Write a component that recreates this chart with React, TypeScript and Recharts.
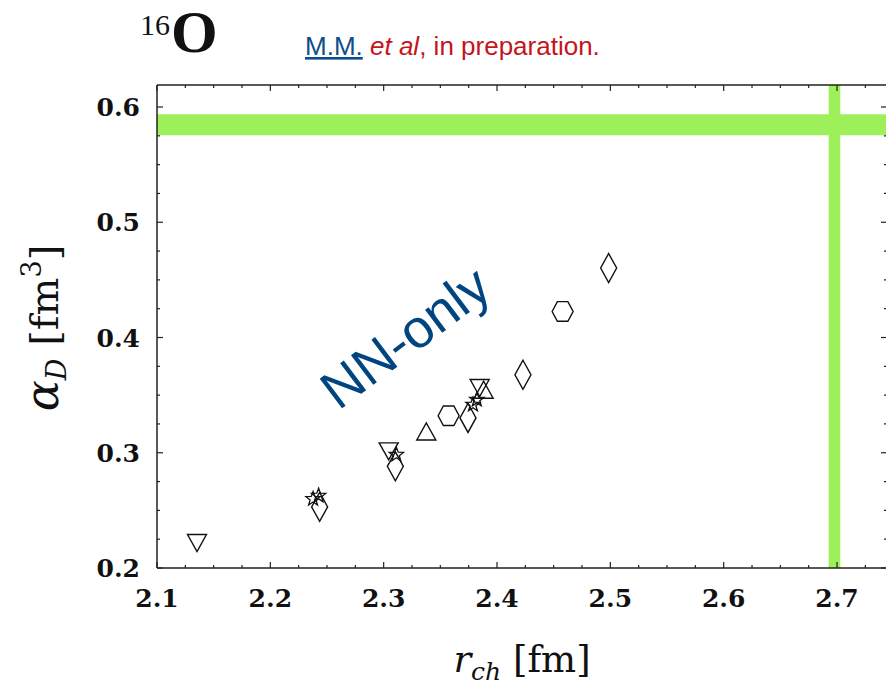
import React from 'react';
import { ScatterChart, Scatter, XAxis, YAxis, ReferenceArea, ReferenceDot } from 'recharts';

// r_ch [fm] vs alpha_D [fm^3]
const downTriangles = [
  { r: 2.1353, a: 0.2217 },
  { r: 2.3044, a: 0.3012 },
  { r: 2.3847, a: 0.3562 },
];
const upTriangles = [
  { r: 2.3376, a: 0.3185 },
  { r: 2.3882, a: 0.3547 },
];
const stars = [
  { r: 2.2377, a: 0.2599 },
  { r: 2.2426, a: 0.2627 },
  { r: 2.3112, a: 0.2983 },
  { r: 2.3788, a: 0.3417 },
  { r: 2.3822, a: 0.346 },
];
const diamonds = [
  { r: 2.2435, a: 0.253 },
  { r: 2.3103, a: 0.2882 },
  { r: 2.3744, a: 0.3302 },
  { r: 2.4229, a: 0.3677 },
  { r: 2.4985, a: 0.4603 },
];
const hexagons = [
  { r: 2.3573, a: 0.3321 },
  { r: 2.4579, a: 0.4226 },
];

// experimental bands
const expAlpha = [0.5755, 0.5938];
const expRadius = [2.6926, 2.7029];

const xTicks = [2.1, 2.125, 2.15, 2.175, 2.2, 2.225, 2.25, 2.275, 2.3, 2.325, 2.35, 2.375, 2.4, 2.425, 2.45, 2.475, 2.5, 2.525, 2.55, 2.575, 2.6, 2.625, 2.65, 2.675, 2.7, 2.725];
const yTicks = [0.2, 0.225, 0.25, 0.275, 0.3, 0.325, 0.35, 0.375, 0.4, 0.425, 0.45, 0.475, 0.5, 0.525, 0.55, 0.575, 0.6];

const ink = '#111';
const axisColor = '#222';
const green = '#9ef05a';
const serif = '"DejaVu Serif", serif';
const sw = 1.4;

const isMajor = (v: number) => Math.abs(v * 10 - Math.round(v * 10)) < 1e-6;

const BottomTick = (props: any) => {
  const { x, y, payload } = props;
  const major = isMajor(payload.value);
  return (
    <g>
      <line x1={x} x2={x} y1={y} y2={y - (major ? 6 : 3)} stroke={axisColor} strokeWidth={1.2} />
      {major && (
        <text x={x} y={y + 39} textAnchor="middle" fontFamily={serif} fontWeight="bold" fontSize={25} fill={ink}>
          {payload.value.toFixed(1)}
        </text>
      )}
    </g>
  );
};

const TopTick = (props: any) => {
  const { x, y, payload } = props;
  const major = isMajor(payload.value);
  return <line x1={x} x2={x} y1={y} y2={y + (major ? 6 : 3)} stroke={axisColor} strokeWidth={1.2} />;
};

const LeftTick = (props: any) => {
  const { x, y, payload } = props;
  const major = isMajor(payload.value);
  return (
    <g>
      <line x1={x} x2={x + (major ? 6 : 3)} y1={y} y2={y} stroke={axisColor} strokeWidth={1.2} />
      {major && (
        <text x={x - 17} y={y + 9} textAnchor="end" fontFamily={serif} fontWeight="bold" fontSize={25} fill={ink}>
          {payload.value.toFixed(1)}
        </text>
      )}
    </g>
  );
};

const RightTick = (props: any) => {
  const { x, y, payload } = props;
  const major = isMajor(payload.value);
  return <line x1={x} x2={x - (major ? 6 : 3)} y1={y} y2={y} stroke={axisColor} strokeWidth={1.2} />;
};

const XLabel = () => (
  <text x={522} y={672} textAnchor="middle" fontFamily={serif} fontSize={37} fill={ink}>
    <tspan fontStyle="italic">r</tspan>
    <tspan fontStyle="italic" fontSize={25} dy={8}>ch</tspan>
    <tspan dy={-8}> [fm]</tspan>
  </text>
);

const YLabel = () => (
  <text transform="rotate(-90)" x={-328} y={58} textAnchor="middle" fontFamily={serif} fontSize={40} fill={ink}>
    <tspan fontStyle="italic" fontSize={46}>α</tspan>
    <tspan fontStyle="italic" fontSize={27} dy={8}>D</tspan>
    <tspan dy={-8}> [fm</tspan>
    <tspan fontSize={27} dy={-17}>3</tspan>
    <tspan dy={17}>]</tspan>
  </text>
);

const Header = () => (
  <g>
    <text x={140} y={35} fontFamily='"Liberation Serif", serif' fontSize={30} fill={ink}>16</text>
    <text x={171} y={52} fontFamily='"Liberation Serif", serif' fontWeight="bold" fontSize={60} fill={ink}>O</text>
    <text x={305} y={55} fontFamily='"Liberation Sans", Arial, sans-serif' fontSize={26} fill="#c4141d">
      <tspan fill="#0d4d8b" style={{ textDecoration: 'underline' }}>M.M.</tspan>
      <tspan> </tspan>
      <tspan fontStyle="italic">et al</tspan>
      <tspan>, in preparation.</tspan>
    </text>
  </g>
);

const NNLabel = (p: any) => (
  <text
    x={p.cx}
    y={p.cy}
    transform={`rotate(-37 ${p.cx} ${p.cy})`}
    textAnchor="middle"
    dominantBaseline="central"
    fontFamily='"Liberation Sans", Arial, sans-serif'
    fontSize={54}
    fill="#00457f"
  >
    NN-only
  </text>
);

const DownTriangle = ({ cx, cy }: any) => (
  <path d={`M${cx - 9.5} ${cy - 8.5}H${cx + 9.5}L${cx} ${cy + 8.5}Z`} fill="none" stroke={ink} strokeWidth={sw} />
);
const UpTriangle = ({ cx, cy }: any) => (
  <path d={`M${cx - 9.5} ${cy + 8.5}H${cx + 9.5}L${cx} ${cy - 8.5}Z`} fill="none" stroke={ink} strokeWidth={sw} />
);
const Diamond = ({ cx, cy }: any) => (
  <path d={`M${cx} ${cy - 14.5}L${cx + 8} ${cy}L${cx} ${cy + 14.5}L${cx - 8} ${cy}Z`} fill="none" stroke={ink} strokeWidth={sw} />
);
const Hexagon = ({ cx, cy }: any) => (
  <path
    d={`M${cx - 10.5} ${cy}L${cx - 5.25} ${cy - 9.8}H${cx + 5.25}L${cx + 10.5} ${cy}L${cx + 5.25} ${cy + 9.8}H${cx - 5.25}Z`}
    fill="none"
    stroke={ink}
    strokeWidth={sw}
  />
);
const Star = ({ cx, cy }: any) => {
  const pts: string[] = [];
  for (let i = 0; i < 10; i++) {
    const rad = i % 2 === 0 ? 7.5 : 3.1;
    const ang = -Math.PI / 2 + (i * Math.PI) / 5;
    pts.push(`${cx + rad * Math.cos(ang)},${cy + rad * Math.sin(ang)}`);
  }
  return <polygon points={pts.join(' ')} fill="none" stroke={ink} strokeWidth={1.3} />;
};

export default function App() {
  return (
    <div style={{ position: 'absolute', left: 0, top: 0, width: 886, height: 685, overflow: 'hidden', background: '#fff' }}>
      <ScatterChart width={890} height={685} margin={{ top: 84, right: 0, bottom: 0, left: 0 }}>
        <XAxis
          xAxisId="b"
          type="number"
          dataKey="r"
          domain={[2.1, 2.7441]}
          allowDataOverflow
          ticks={xTicks}
          interval={0}
          tickSize={0}
          tickMargin={0}
          tickLine={false}
          tick={<BottomTick />}
          axisLine={{ stroke: axisColor, strokeWidth: 1.5 }}
          height={117}
          label={<XLabel />}
        />
        <XAxis
          xAxisId="t"
          orientation="top"
          type="number"
          dataKey="r"
          domain={[2.1, 2.7441]}
          allowDataOverflow
          ticks={xTicks}
          interval={0}
          tickSize={0}
          tickMargin={0}
          tickLine={false}
          tick={<TopTick />}
          axisLine={{ stroke: axisColor, strokeWidth: 1.5 }}
          height={1}
          label={<Header />}
        />
        <YAxis
          yAxisId="l"
          type="number"
          dataKey="a"
          domain={[0.2, 0.6191]}
          allowDataOverflow
          ticks={yTicks}
          interval={0}
          tickSize={0}
          tickMargin={0}
          tickLine={false}
          tick={<LeftTick />}
          axisLine={{ stroke: axisColor, strokeWidth: 1.5 }}
          width={157}
          label={<YLabel />}
        />
        <YAxis
          yAxisId="r"
          orientation="right"
          type="number"
          dataKey="a"
          domain={[0.2, 0.6191]}
          allowDataOverflow
          ticks={yTicks}
          interval={0}
          tickSize={0}
          tickMargin={0}
          tickLine={false}
          tick={<RightTick />}
          axisLine={{ stroke: axisColor, strokeWidth: 1.5 }}
          width={3}
        />
        <ReferenceArea xAxisId="b" yAxisId="l" y1={expAlpha[0]} y2={expAlpha[1]} fill={green} fillOpacity={1} stroke="none" ifOverflow="hidden" />
        <ReferenceArea xAxisId="b" yAxisId="l" x1={expRadius[0]} x2={expRadius[1]} fill={green} fillOpacity={1} stroke="none" ifOverflow="hidden" />
        <ReferenceDot xAxisId="b" yAxisId="l" x={2.3188} y={0.4004} r={0} shape={NNLabel} />
        <Scatter xAxisId="b" yAxisId="l" data={downTriangles} shape={<DownTriangle />} isAnimationActive={false} />
        <Scatter xAxisId="b" yAxisId="l" data={upTriangles} shape={<UpTriangle />} isAnimationActive={false} />
        <Scatter xAxisId="b" yAxisId="l" data={diamonds} shape={<Diamond />} isAnimationActive={false} />
        <Scatter xAxisId="b" yAxisId="l" data={hexagons} shape={<Hexagon />} isAnimationActive={false} />
        <Scatter xAxisId="b" yAxisId="l" data={stars} shape={<Star />} isAnimationActive={false} />
      </ScatterChart>
    </div>
  );
}
